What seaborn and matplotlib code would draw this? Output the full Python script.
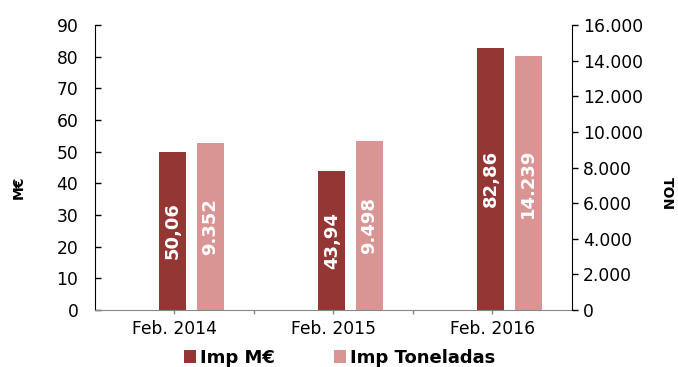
import matplotlib
matplotlib.use('Agg')
import matplotlib.pyplot as plt
import seaborn as sns
import numpy as np
import pandas as pd
from matplotlib.patches import Patch

categories = ['Feb. 2014', 'Feb. 2015', 'Feb. 2016']
imp_meur = [50.06, 43.94, 82.86]
imp_ton = [9352, 9498, 14239]
meur_labels = ['50,06', '43,94', '82,86']
ton_labels = ['9.352', '9.498', '14.239']
left_ticks = [0, 10, 20, 30, 40, 50, 60, 70, 80, 90]
right_ticks = [0, 2000, 4000, 6000, 8000, 10000, 12000, 14000, 16000]
right_tick_labels = ['0', '2.000', '4.000', '6.000', '8.000', '10.000', '12.000', '14.000', '16.000']
series_names = ['Imp M€', 'Imp Toneladas']

DARK = '#943634'
LIGHT = '#D99594'

sns.set_style('white')
plt.rcParams['font.family'] = ['DejaVu Sans']
plt.rcParams['text.color'] = 'black'
plt.rcParams['axes.labelcolor'] = 'black'
plt.rcParams['xtick.color'] = 'black'
plt.rcParams['ytick.color'] = 'black'

fig = plt.figure(figsize=(6.78, 3.67), dpi=100)
ax = fig.add_axes([0.140, 0.155, 0.7035, 0.777])
ax2 = ax.twinx()

idx = np.arange(len(categories))
df1 = pd.DataFrame({'x': idx - 0.01, 'y': imp_meur})
df2 = pd.DataFrame({'x': idx + 0.225, 'y': imp_ton})
sns.barplot(data=df1, x='x', y='y', native_scale=True, width=0.168, color=DARK,
            saturation=1, ax=ax, errorbar=None, linewidth=0)
sns.barplot(data=df2, x='x', y='y', native_scale=True, width=0.168, color=LIGHT,
            saturation=1, ax=ax2, errorbar=None, linewidth=0)

ax.bar_label(ax.containers[0], labels=meur_labels, label_type='center', rotation=90,
             color='white', fontweight='bold', fontsize=13)
ax2.bar_label(ax2.containers[0], labels=ton_labels, label_type='center', rotation=90,
              color='white', fontweight='bold', fontsize=13)

ax.set_xlim(-0.5, len(categories) - 0.5)
ax.set_xticks(idx)
ax.set_xticklabels(categories, fontsize=12.3)
ax.set_xticks(idx[:-1] + 0.5, minor=True)
ax.set_ylim(0, 90)
ax.set_yticks(left_ticks)
ax.set_yticklabels([str(t) for t in left_ticks], fontsize=12.3)
ax2.set_ylim(0, 16000)
ax2.set_yticks(right_ticks)
ax2.set_yticklabels(right_tick_labels, fontsize=12.3)

ax.set_xlabel('')
ax2.set_xlabel('')
ax.set_ylabel('M€', fontsize=10, fontweight='bold', labelpad=22, color='black')
ax2.set_ylabel('TON', fontsize=10, fontweight='bold', rotation=-90, labelpad=22, color='black')
ax.yaxis.label.set_y(0.43)
ax2.yaxis.label.set_y(0.41)

ax.tick_params(axis='y', direction='in', length=4, width=1, pad=12, colors='black', left=True)
ax.tick_params(axis='x', which='both', direction='out', length=3, width=1, pad=4, bottom=True,
               labelcolor='black')
ax2.tick_params(axis='y', direction='out', length=4, width=1, pad=4, right=True, colors='black')

for s in ['top', 'right']:
    ax.spines[s].set_visible(False)
for s in ['top', 'left', 'bottom']:
    ax2.spines[s].set_visible(False)
ax.spines['left'].set_color('black')
ax.spines['bottom'].set_color('#868686')
ax2.spines['right'].set_color('black')
ax.tick_params(axis='x', which='both', color='#868686')
ax2.grid(False)
ax.grid(False)

handles = [Patch(facecolor=DARK, edgecolor='none'), Patch(facecolor=LIGHT, edgecolor='none')]
leg = fig.legend(handles, series_names, loc='center', bbox_to_anchor=(0.501, 0.025), ncol=2,
                 frameon=False, prop={'weight': 'bold', 'size': 13}, handlelength=0.65,
                 handleheight=0.65, handletextpad=0.2, columnspacing=3.3, borderpad=0)
for t in leg.get_texts():
    t.set_color('black')

fig.savefig('out.png', dpi=100)
